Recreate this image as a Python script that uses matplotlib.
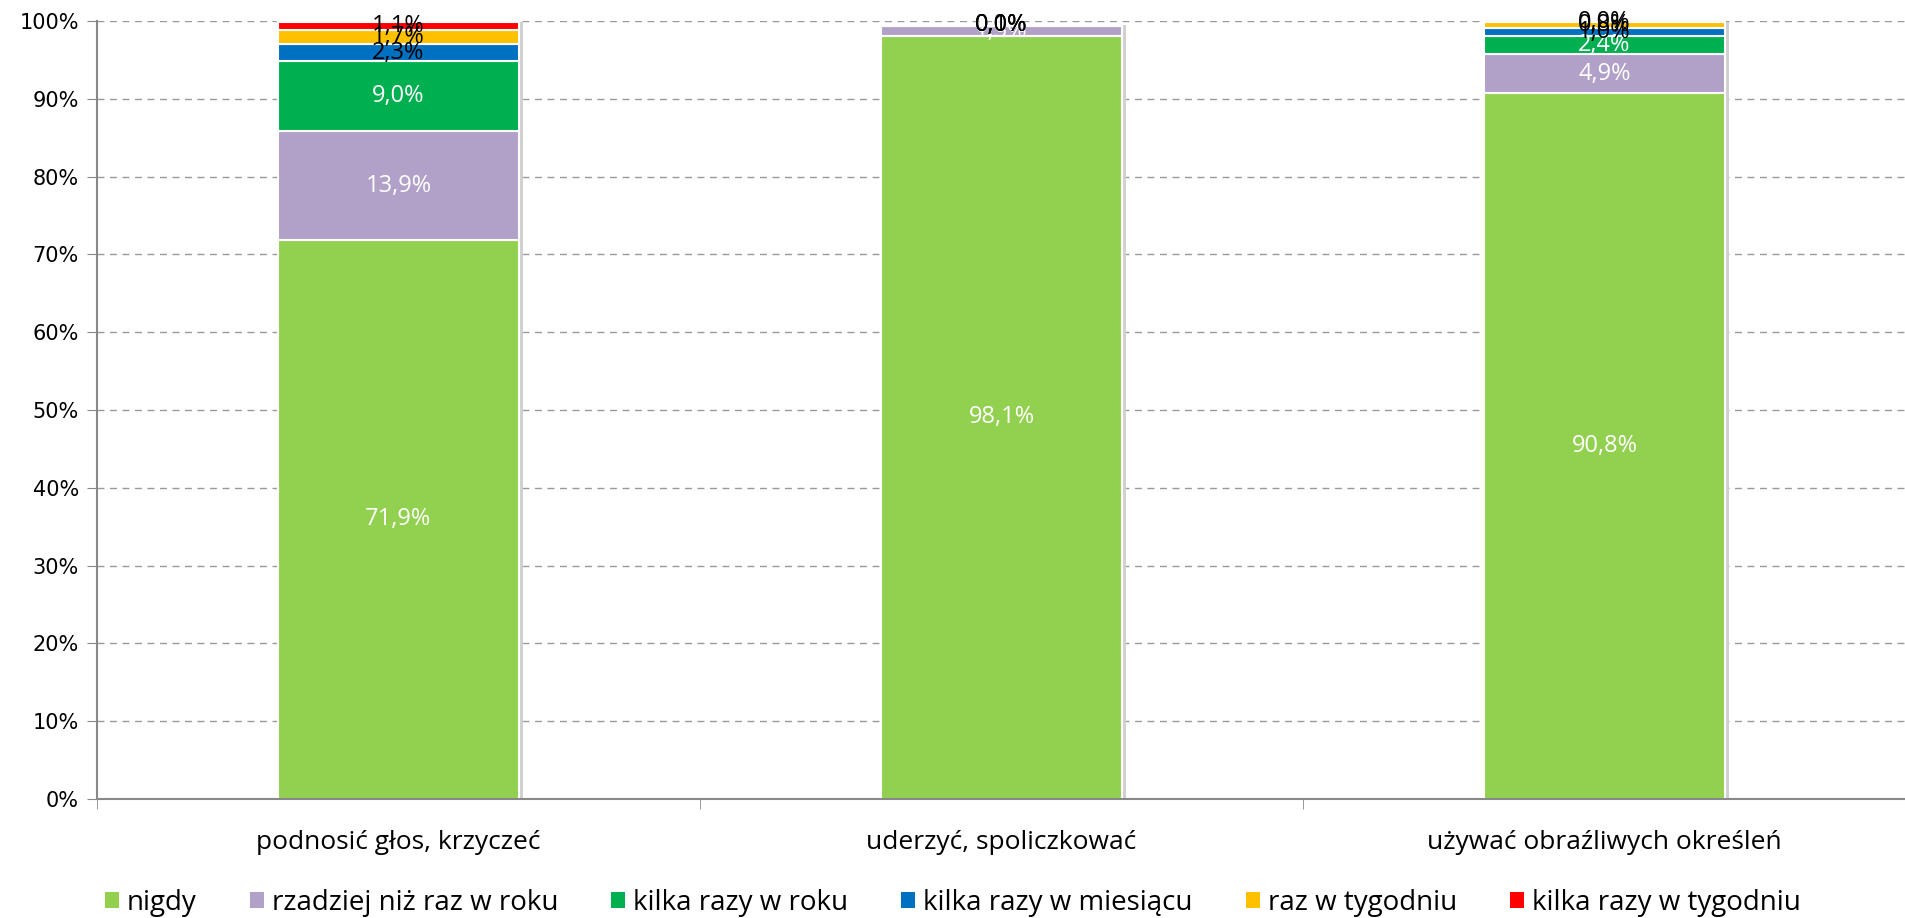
import matplotlib
matplotlib.use("Agg")
import matplotlib.pyplot as plt
from matplotlib.patches import Patch
import numpy as np

plt.rcParams['font.family'] = ['Open Sans', 'DejaVu Sans']

categories = ["podnosić głos, krzyczeć", "uderzyć, spoliczkować", "używać obraźliwych określeń"]
series_names = ["nigdy", "rzadziej niż raz w roku", "kilka razy w roku",
                "kilka razy w miesiącu", "raz w tygodniu", "kilka razy w tygodniu"]
nigdy = [71.9, 98.1, 90.8]
rzadziej = [13.9, 1.3, 4.9]
kilka_rok = [9.0, 0.0, 2.4]
kilka_mies = [2.3, 0.1, 1.0]
raz_tydz = [1.7, 0.0, 0.8]
kilka_tydz = [1.1, 0.0, 0.0]
series = [nigdy, rzadziej, kilka_rok, kilka_mies, raz_tydz, kilka_tydz]
colors = ["#92D050", "#B1A0C7", "#00B050", "#0070C0", "#FFC000", "#FF0000"]
label_colors = ["white", "white", "white", "black", "black", "black"]

fig = plt.figure(figsize=(19.06, 9.18), dpi=100)
ax = fig.add_axes([97/1906, 1 - 799/918, 1 - 97/1906, (799 - 21)/918])

x = np.arange(len(categories))
width = 0.4
bottom = np.zeros(len(categories))
for vals in series:
    ax.bar(x + 0.006, vals, width, bottom=bottom, color="#d0d0d0", zorder=1.5)
    bottom += np.array(vals)
bottom = np.zeros(len(categories))
for vals, c, lc in zip(series, colors, label_colors):
    v = np.array(vals)
    ax.bar(x, v, width, bottom=bottom, color=c, edgecolor="white", linewidth=1.5, zorder=2)
    for xi, vi, bi in zip(x, v, bottom):
        ax.text(xi, bi + vi / 2, f"{vi:.1f}%".replace(".", ","), ha="center", va="center",
                color=lc, fontsize=17, zorder=3)
    bottom += v

ax.set_xlim(-0.5, 2.5)
ax.set_ylim(0, 100)
ax.set_yticks(np.arange(0, 101, 10))
ax.set_yticklabels([f"{t}%" for t in range(0, 101, 10)], fontsize=15, family=['DejaVu Sans'])
ax.yaxis.grid(True, linestyle=(0, (5, 4)), color="#999999", linewidth=1.0, zorder=0)
ax.set_axisbelow(True)
ax.set_xticks(x)
ax.set_xticklabels(categories, fontsize=19)
ax.set_xticks([-0.5, 0.5, 1.5, 2.5], minor=True)
ax.tick_params(axis="x", which="major", length=0, pad=22)
ax.tick_params(axis="x", which="minor", length=7, color="#888888", direction="out")
ax.tick_params(axis="y", length=7, color="#888888", direction="out", pad=6)
for s in ["top", "right"]:
    ax.spines[s].set_visible(False)
for s in ["left", "bottom"]:
    ax.spines[s].set_color("#888888")
    ax.spines[s].set_linewidth(1.5)

handles = [Patch(facecolor=c, edgecolor="none") for c in colors]
fig.legend(handles, series_names, loc="center", bbox_to_anchor=(0.5, 1 - 903/918), ncol=6,
           frameon=False, fontsize=20, handlelength=0.5, handleheight=0.5, handletextpad=0.3,
           columnspacing=1.9)

fig.savefig("out.png", dpi=100)
